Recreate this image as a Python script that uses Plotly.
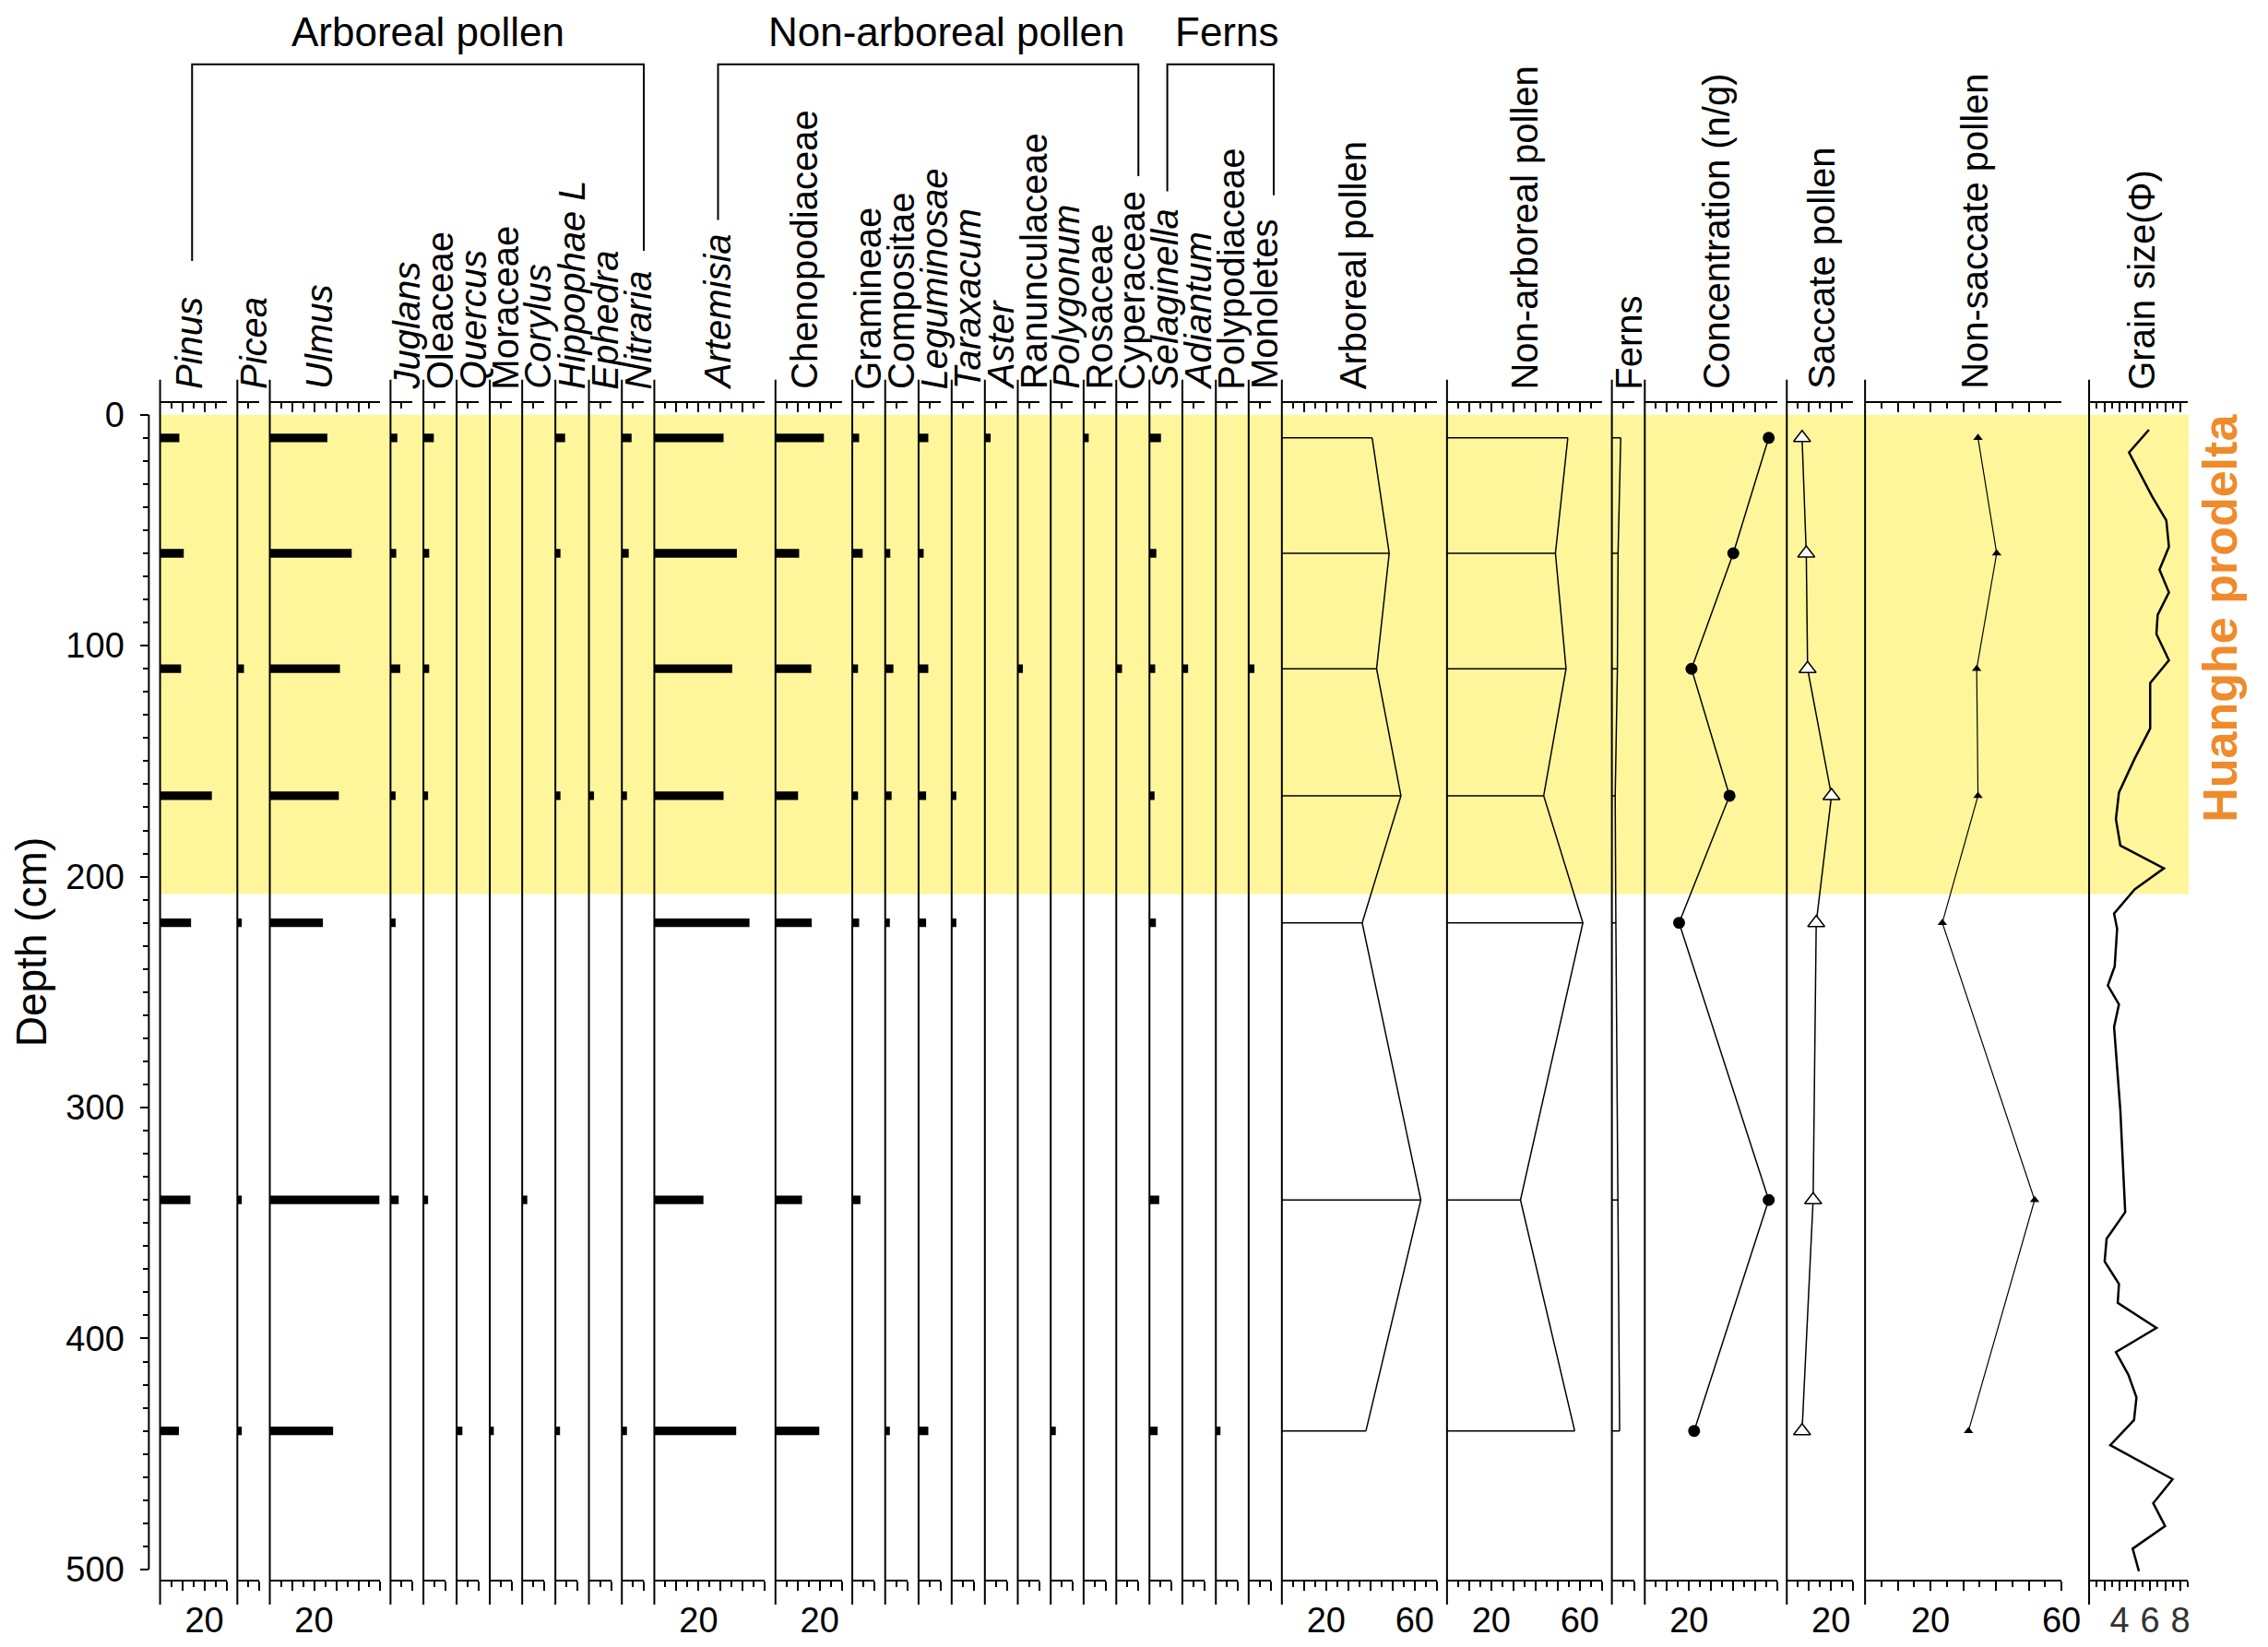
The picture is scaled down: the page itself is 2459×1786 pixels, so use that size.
import plotly.graph_objects as go

# sample depths (cm)
depth = [10, 60, 110, 165, 220, 340, 440]

# pollen percentages per taxon, one value per sample depth
pinus = [8.7, 10.7, 9.5, 23.4, 14, 13.7, 8.5]
picea = [0, 0, 3, 0, 2, 2, 2]
ulmus = [26, 37, 31.7, 31.2, 24, 49.5, 28.6]
juglans = [3.1, 2.6, 4.4, 2.3, 2.3, 3.7, 0]
oleaceae = [4.7, 2.6, 2.6, 2.1, 0, 2.1, 0]
quercus = [0, 0, 0, 0, 0, 0, 2.6]
moraceae = [0, 0, 0, 0, 0, 0, 1.8]
corylus = [0, 0, 0, 0, 0, 2.3, 0]
hippophae = [4.4, 2.3, 0, 2.3, 0, 0, 2.1]
ephedra = [0, 0, 0, 2.3, 0, 0, 0]
nitraria = [4.4, 3.1, 0, 2.3, 0, 0, 2.3]
artemisia = [31.3, 37.3, 35.2, 31.3, 43, 22.2, 37]
chenopodiaceae = [21.9, 10.7, 16.2, 10.2, 16.4, 12, 19.8]
gramineae = [3.1, 4.7, 2.6, 2.6, 3.1, 3.7, 0]
compositae = [0, 2.3, 3.7, 2.9, 2.1, 0, 2.1]
leguminosae = [4.4, 2.3, 4.4, 3.4, 3.4, 0, 4.4]
taraxacum = [0, 0, 0, 2.1, 2.1, 0, 0]
aster = [2.6, 0, 0, 0, 0, 0, 0]
ranunculaceae = [0, 0, 2.3, 0, 0, 0, 0]
polygonum = [0, 0, 0, 0, 0, 0, 2.3]
rosaceae = [2.3, 0, 0, 0, 0, 0, 0]
cyperaceae = [0, 0, 2.6, 0, 0, 0, 0]
selaginella = [5.2, 3.1, 2.6, 2.3, 2.9, 4.4, 3.7]
adiantum = [0, 0, 2.6, 0, 0, 0, 0]
polypodiaceae = [0, 0, 0, 0, 0, 0, 2.1]
monoletes = [0, 0, 2.6, 0, 0, 0, 0]

# summary curves
arboreal = [40.8, 48.5, 42.8, 53.8, 36.3, 62.8, 38]
non_arboreal = [54.6, 49, 53.8, 43.7, 61.4, 33.2, 57.7]
ferns = [4, 2.8, 2.5, 1.5, 1.8, 2.8, 3.5]
concentration = [56, 40, 21.1, 38.3, 15.5, 56, 22.3]
saccate = [6.9, 8.8, 9.4, 20.2, 13.3, 11.9, 6.9]
non_saccate = [34.5, 40.2, 34.1, 34.5, 23.6, 51.8, 31.6]

# grain size record
grain_depth = [6.5, 16.3, 35.3, 45.8, 57.2, 67.1, 76.9, 86.7, 94.9, 106.3, 116.2, 135.8,
               148.9, 163.6, 175.1, 186.5, 196.4, 205.5, 216, 222.5, 238.9, 247.1, 255.3,
               265.1, 301.1, 345.3, 356.8, 366.6, 376.4, 384.6, 395.4, 405.9, 415.7, 425.5,
               435.3, 446.2, 460.9, 471.3, 481.2, 491, 500.8]
grain_size = [5.93, 4.62, 6.13, 7.07, 7.24, 6.62, 7.24, 6.5, 6.42, 7.24, 6.01, 6.01,
              4.99, 3.96, 3.76, 4.05, 6.91, 4.99, 3.64, 3.84, 3.68, 3.23, 3.96,
              3.64, 4.05, 4.37, 3.15, 3.02, 3.96, 3.88, 6.42, 3.76, 4.58, 5.11,
              4.95, 3.39, 7.48, 6.21, 6.99, 4.86, 5.27]

# page is 2459x1786; the html body keeps an 8px margin round the figure
W, H, OFF = 2459, 1786, 8
FW, FH = W - 2 * OFF, H - 2 * OFF
FONT = "Liberation Sans, Arial, sans-serif"
K = 2.42  # pixels per percent


def px(x):
    return (x - OFF) / FW


def py(y):
    return 1 - (y - OFF) / FH


# pixel rows of the frame
Y_TOP, Y_BOT = 434.3, 1724.0
D0, DPX = 446.7, 2.533
y_range = [(Y_BOT - D0) / DPX, (Y_TOP - D0) / DPX]

# (title, italic, values, left px, lo, hi, px/unit, kind, labelled ticks, title x)
panels = [
    ("Pinus", True, pinus, 175, 0, 30, K, "bar", [20], 207.5),
    ("Picea", True, picea, 259.5, 0, 10, K, "bar", [], 278),
    ("Ulmus", True, ulmus, 295, 0, 50, K, "bar", [20], 349),
    ("Juglans", True, juglans, 427, 0, 10, K, "bar", [], 444.5),
    ("Oleaceae", False, oleaceae, 463, 0, 10, K, "bar", [], 480.5),
    ("Quercus", True, quercus, 499.3, 0, 10, K, "bar", [], 516.8),
    ("Moraceae", False, moraceae, 535.6, 0, 10, K, "bar", [], 553),
    ("Corylus", True, corylus, 571, 0, 10, K, "bar", [], 588.5),
    ("Hippophae L", True, hippophae, 607.3, 0, 10, K, "bar", [], 624.8),
    ("Ephedra", True, ephedra, 644, 0, 10, K, "bar", [], 661.5),
    ("Nitraria", True, nitraria, 680, 0, 10, K, "bar", [], 697.5),
    ("Artemisia", True, artemisia, 715.5, 0, 50, K, "bar", [20], 785),
    ("Chenopodiaceae", False, chenopodiaceae, 848, 0, 30, K, "bar", [20], 880),
    ("Gramineae", False, gramineae, 932, 0, 10, K, "bar", [], 949.5),
    ("Compositae", False, compositae, 968, 0, 10, K, "bar", [], 985.5),
    ("Leguminosae", True, leguminosae, 1004.5, 0, 10, K, "bar", [], 1022),
    ("Taraxacum", True, taraxacum, 1040.7, 0, 10, K, "bar", [], 1058),
    ("Aster", True, aster, 1077, 0, 10, K, "bar", [], 1094.5),
    ("Ranunculaceae", False, ranunculaceae, 1113, 0, 10, K, "bar", [], 1130.5),
    ("Polygonum", True, polygonum, 1149, 0, 10, K, "bar", [], 1166.5),
    ("Rosaceae", False, rosaceae, 1185, 0, 10, K, "bar", [], 1202.5),
    ("Cyperaceae", False, cyperaceae, 1220.7, 0, 10, K, "bar", [], 1238),
    ("Selaginella", True, selaginella, 1257, 0, 10, K, "bar", [], 1274.5),
    ("Adiantum", True, adiantum, 1293, 0, 10, K, "bar", [], 1310.5),
    ("Polypodiaceae", False, polypodiaceae, 1329.6, 0, 10, K, "bar", [], 1347),
    ("Monoletes", False, monoletes, 1365.5, 0, 10, K, "bar", [], 1383),
    ("Arboreal pollen", False, arboreal, 1401.8, 0, 70, K, "area", [20, 60], 1479),
    ("Non-arboreal pollen", False, non_arboreal, 1582.4, 0, 70, K, "area", [20, 60], 1667),
    ("Ferns", False, ferns, 1762.7, 0, 10, K, "area", [], 1781.6),
    ("Concentration (n/g)", False, concentration, 1798.7, 0, 60, K, "dots", [20], 1877.6),
    ("Saccate pollen", False, saccate, 1954, 0, 30, K, "tri", [20], 1992.6),
    ("Non-saccate pollen", False, non_saccate, 2039.6, 0, 60, 3.58, "tri_small", [20, 60], 2160),
    ("Grain size(Φ)", False, grain_size, 2284.6, 2, 8.5, 16.66, "grain", [4, 6, 8], 2342),
]

fig = go.Figure()
lay = {}
shapes = []
annotations = []

for i, (name, ital, vals, x0, lo, hi, scale, kind, labels, tx) in enumerate(panels):
    kb, kt = 2 * i + 1, 2 * i + 2
    xb = "x" if kb == 1 else f"x{kb}"
    xt = f"x{kt}"
    dom = [px(x0), px(x0 + (hi - lo) * scale)]

    if kind == "grain":
        major = [v for v in range(3, 9)]
        minor = [v + 0.5 for v in range(2, 9)]
    else:
        major = list(range(10, int(hi) + 1, 10))
        minor = list(range(5, int(hi) + 1, 10))
    ticktext = [str(v) if v in labels else "" for v in major]

    common = dict(domain=dom, range=[lo, hi], anchor="y", showgrid=False, zeroline=False,
                  showline=True, linecolor="black", linewidth=2,
                  tickmode="array", tickvals=major, ticklen=10, tickwidth=2, tickcolor="black")
    lay["xaxis" if kb == 1 else f"xaxis{kb}"] = dict(
        common, side="bottom", ticks="outside", ticktext=ticktext,
        tickfont=dict(size=38, color="#333" if kind == "grain" else "black"),
        minor=dict(tickmode="array", tickvals=minor, ticks="outside", ticklen=6,
                   tickwidth=2, tickcolor="black"))
    lay[f"xaxis{kt}"] = dict(
        common, side="top", overlaying=xb, ticks="inside", showticklabels=False,
        minor=dict(tickmode="array", tickvals=minor, ticks="inside", ticklen=6,
                   tickwidth=2, tickcolor="black"))
    # empty trace so the top scale is drawn
    fig.add_trace(go.Scatter(x=[None], y=[None], xaxis=xt, yaxis="y", showlegend=False,
                             hoverinfo="skip"))

    if kind == "bar":
        fig.add_trace(go.Bar(x=vals, y=depth, orientation="h", width=3.7,
                             marker=dict(color="black", line_width=0),
                             xaxis=xb, yaxis="y", showlegend=False))
    elif kind == "area":
        hx, hy = [], []
        for v, d in zip(vals, depth):
            hx += [0, v, None]
            hy += [d, d, None]
        fig.add_trace(go.Scatter(x=hx, y=hy, mode="lines", line=dict(color="black", width=1.5),
                                 xaxis=xb, yaxis="y", showlegend=False))
        fig.add_trace(go.Scatter(x=vals, y=depth, mode="lines", line=dict(color="black", width=1.5),
                                 xaxis=xb, yaxis="y", showlegend=False))
    elif kind == "dots":
        fig.add_trace(go.Scatter(x=vals, y=depth, mode="lines+markers",
                                 line=dict(color="black", width=1.5),
                                 marker=dict(symbol="circle", size=13, color="black"),
                                 xaxis=xb, yaxis="y", showlegend=False))
    elif kind == "tri":
        fig.add_trace(go.Scatter(x=vals, y=depth, mode="lines+markers",
                                 line=dict(color="black", width=1.5),
                                 marker=dict(symbol="triangle-up", size=16, color="white",
                                             line=dict(color="black", width=1.5)),
                                 xaxis=xb, yaxis="y", showlegend=False))
    elif kind == "tri_small":
        fig.add_trace(go.Scatter(x=vals, y=depth, mode="lines+markers",
                                 line=dict(color="black", width=1.2),
                                 marker=dict(symbol="triangle-up", size=9, color="black"),
                                 xaxis=xb, yaxis="y", showlegend=False))
    else:
        fig.add_trace(go.Scatter(x=vals, y=grain_depth, mode="lines",
                                 line=dict(color="black", width=2.5),
                                 xaxis=xb, yaxis="y", showlegend=False))

    # panel left border, running past both scales
    shapes.append(dict(type="line", xref="paper", yref="paper", x0=px(x0), x1=px(x0),
                       y0=py(1751.7), y1=py(408.3), line=dict(color="black", width=2)))
    txt = f"<i>{name}</i>" if ital else name
    annotations.append(dict(text=txt, x=px(tx), y=py(421), xref="paper", yref="paper",
                            xanchor="center", yanchor="bottom", textangle=-90,
                            showarrow=False, font=dict(size=40, color="black")))

# Huanghe prodelta band
shapes.insert(0, dict(type="rect", xref="paper", yref="y", x0=px(175), x1=px(2393.5),
                      y0=0, y1=207.5, fillcolor="#FFF69C", line=dict(width=0), layer="below"))
# depth axis line
shapes.append(dict(type="line", xref="paper", yref="y", x0=px(162.7), x1=px(162.7),
                   y0=0, y1=500, line=dict(color="black", width=2)))

# group brackets
brackets = [
    ("Arboreal pollen", 210, 278, 704, 267, 468),
    ("Non-arboreal pollen", 785.2, 233, 1244.9, 185, 1035),
    ("Ferns", 1276.5, 201.7, 1392.9, 206, 1341.6),
]
for label, xl, yl, xr, yr, xc in brackets:
    shapes.append(dict(type="path", xref="paper", yref="paper",
                       path=f"M {px(xl)},{py(yl)} L {px(xl)},{py(62.3)} L {px(xr)},{py(62.3)} L {px(xr)},{py(yr)}",
                       line=dict(color="black", width=2)))
    annotations.append(dict(text=label, x=px(xc), y=py(27), xref="paper", yref="paper",
                            xanchor="center", yanchor="middle", showarrow=False,
                            font=dict(size=44, color="black")))

annotations.append(dict(text="Depth (cm)", x=px(34), y=py(1025), xref="paper", yref="paper",
                        xanchor="center", yanchor="middle", textangle=-90, showarrow=False,
                        font=dict(size=46, color="black")))
annotations.append(dict(text="<b>Huanghe prodelta</b>", x=px(2427), y=py(670),
                        xref="paper", yref="paper", xanchor="center", yanchor="middle",
                        textangle=-90, showarrow=False,
                        font=dict(size=52, color="#EF8B2C")))

lay["yaxis"] = dict(domain=[py(Y_BOT), py(Y_TOP)], range=y_range, anchor="free",
                    position=px(162.7), side="left", showline=False, showgrid=False,
                    zeroline=False, tickmode="array", tickvals=list(range(0, 501, 100)),
                    ticks="outside", ticklen=9, tickwidth=2, tickcolor="black",
                    tickfont=dict(size=38, color="black"), ticklabelstandoff=10,
                    minor=dict(tickmode="array",
                               tickvals=[v for v in range(10, 500, 10) if v % 100],
                               ticks="outside", ticklen=6, tickwidth=2, tickcolor="black"))

fig.update_layout(**lay)
fig.update_layout(width=FW, height=FH, margin=dict(l=0, r=0, t=0, b=0),
                  paper_bgcolor="white", plot_bgcolor="rgba(0,0,0,0)",
                  font=dict(family=FONT, color="black"), barmode="overlay",
                  shapes=shapes, annotations=annotations, showlegend=False)

fig.write_html("out.html")
